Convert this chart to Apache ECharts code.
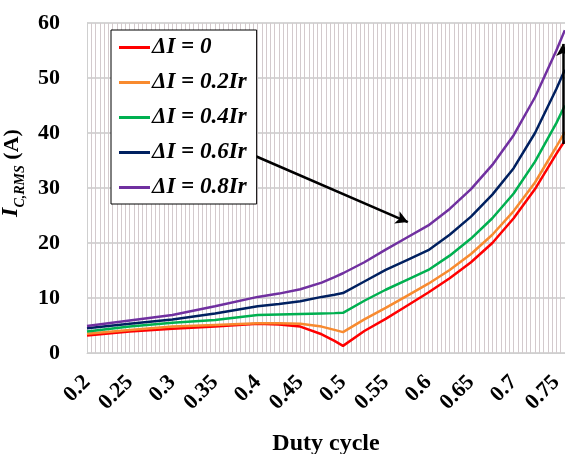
<!DOCTYPE html>
<html>
<head>
<meta charset="utf-8">
<title>IC,RMS vs duty cycle</title>
<script src="https://cdn.jsdelivr.net/npm/echarts@6/dist/echarts.min.js"></script>
<style>
    html, body { margin: 0; padding: 0; background: #fff; }
    #chart { width: 565px; height: 454px; }
</style>
</head>
<body>
<div id="chart"></div>
<script>
// duty cycle samples and the RMS capacitor current (A) for each ripple level
var duty = [0.2, 0.25, 0.3, 0.35, 0.4, 0.425, 0.45, 0.475, 0.49, 0.5, 0.525, 0.55, 0.575, 0.6, 0.625, 0.65, 0.675, 0.7, 0.725, 0.75, 0.76];
var di0   = [3.2, 3.9, 4.4, 4.8, 5.3, 5.2, 4.8, 3.4, 2.2, 1.3, 4.0, 6.2, 8.6, 11.0, 13.6, 16.5, 20.0, 24.5, 29.8, 36.2, 38.6];
var di02  = [3.5, 4.2, 4.8, 5.1, 5.4, 5.4, 5.3, 4.8, 4.2, 3.8, 6.1, 8.2, 10.4, 12.6, 15.1, 18.0, 21.5, 25.8, 31.0, 37.5, 40.2];
var di04  = [3.9, 4.8, 5.5, 6.0, 6.9, 7.0, 7.1, 7.2, 7.25, 7.3, 9.5, 11.5, 13.3, 15.1, 17.7, 20.8, 24.5, 29.0, 34.8, 41.8, 45.0];
var di06  = [4.5, 5.3, 6.1, 7.2, 8.5, 8.9, 9.4, 10.2, 10.6, 10.9, 13.0, 15.1, 16.9, 18.7, 21.5, 24.8, 28.8, 33.6, 40.0, 48.0, 51.5];
var di08  = [4.9, 5.9, 6.9, 8.5, 10.2, 10.8, 11.6, 12.8, 13.8, 14.5, 16.5, 18.8, 21.0, 23.2, 26.2, 29.8, 34.2, 39.6, 46.5, 55.0, 58.7];

var names = ["ΔI = 0", "ΔI = 0.2Ir", "ΔI = 0.4Ir", "ΔI = 0.6Ir", "ΔI = 0.8Ir"];
var cores = ["#ff0000", "#f88a2f", "#00b050", "#002060", "#7030a0"];
var valores = [di0, di02, di04, di06, di08];

// arrows (data coordinates)
var setaDiag = [[0.3945, 36], [0.576, 23.8]];
var setaVert = [[0.7577, 38], [0.7577, 56.2]];

var fonte = "'Liberation Serif', 'Times New Roman', serif";
var corGrade = "#d3cacd";

function pares(ys) {
    var out = [];
    for (var i = 0; i < duty.length; i++) {
        out.push([duty[i], ys[i]]);
    }
    return out;
}

function desenhar() {
    var el = document.getElementById("chart");
    var chart = echarts.init(el, null, { renderer: "canvas" });

    var series = [];
    for (var i = 0; i < names.length; i++) {
        series.push({
            name: names[i],
            type: "line",
            data: pares(valores[i]),
            showSymbol: false,
            symbol: "none",
            lineStyle: { width: 2.5, color: cores[i] },
            itemStyle: { color: cores[i] },
            z: 3
        });
    }
    // arrows drawn as markLines on an empty series
    series.push({
        type: "line",
        data: [],
        silent: true,
        markLine: {
            silent: true,
            symbol: ["none", "arrow"],
            symbolSize: [10, 12],
            label: { show: false },
            lineStyle: { color: "#000", width: 2.5, type: "solid" },
            data: [
                [{ coord: setaDiag[0] }, { coord: setaDiag[1] }],
                [{ coord: setaVert[0] }, { coord: setaVert[1] }]
            ]
        },
        z: 4
    });

    // the axis runs to 0.8 but the window cuts it at 0.76
    var option = {
        backgroundColor: "#fff",
        animation: false,
        grid: { left: 87, right: -34, top: 23, bottom: 101, containLabel: false, outerBoundsMode: "none" },
        legend: {
            orient: "vertical",
            left: 111,
            top: 30,
            data: names,
            icon: "rect",
            itemWidth: 31,
            itemHeight: 3,
            itemGap: 12,
            padding: [6, 10, 5, 8],
            backgroundColor: "#fff",
            borderColor: "#000",
            borderWidth: 1,
            borderRadius: 0,
            textStyle: {
                fontFamily: fonte,
                fontSize: 23,
                fontWeight: "bold",
                fontStyle: "italic",
                color: "#000",
                padding: [0, 0, 0, -3]
            },
            z: 10
        },
        xAxis: {
            type: "value",
            min: 0.2,
            max: 0.8,
            interval: 0.05,
            name: "Duty cycle",
            nameLocation: "middle",
            nameGap: 79,
            nameTextStyle: {
                fontFamily: fonte, fontSize: 24, fontWeight: "bold", color: "#000",
                padding: [0, 34, 0, 0]
            },
            axisLine: { show: true, lineStyle: { color: "#cfcfcf", width: 1 } },
            axisTick: { show: false },
            splitLine: { show: true, lineStyle: { color: corGrade, width: 1 } },
            minorTick: { show: false, splitNumber: 10 },
            minorSplitLine: { show: true, lineStyle: { color: corGrade, width: 1 } },
            axisLabel: {
                rotate: 45,
                margin: 26,
                showMaxLabel: false,
                fontFamily: fonte,
                fontSize: 22,
                fontWeight: "bold",
                color: "#000"
            }
        },
        yAxis: {
            type: "value",
            min: 0,
            max: 60,
            interval: 10,
            name: "{i|I}{s|C,RMS}{a| (A)}",
            nameLocation: "middle",
            nameGap: 50,
            nameRotate: 90,
            nameTextStyle: {
                color: "#000",
                padding: [0, 0, 0, 30],
                rich: {
                    i: { fontFamily: fonte, fontSize: 24, fontWeight: "bold", fontStyle: "italic", color: "#000", verticalAlign: "bottom" },
                    s: { fontFamily: fonte, fontSize: 14, fontWeight: "bold", fontStyle: "italic", color: "#000", verticalAlign: "bottom", padding: [0, 0, -4, 0] },
                    a: { fontFamily: fonte, fontSize: 22, fontWeight: "bold", color: "#000", verticalAlign: "bottom" }
                }
            },
            axisLine: { show: true, lineStyle: { color: "#cfcfcf", width: 1 } },
            axisTick: { show: false },
            splitLine: { show: true, lineStyle: { color: "#c8c8c8", width: 1.5 } },
            axisLabel: {
                margin: 27,
                fontFamily: fonte,
                fontSize: 22,
                fontWeight: "bold",
                color: "#000"
            }
        },
        series: series
    };
    chart.setOption(option);
}

window.onload = desenhar;
</script>
</body>
</html>
